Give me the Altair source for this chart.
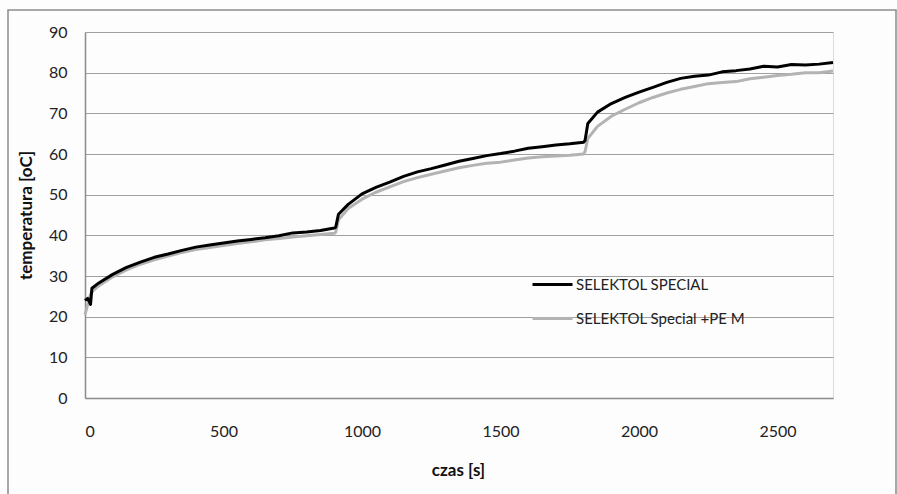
import altair as alt
import pandas as pd

# Measurement times [s] and temperatures [oC] for both lubricants
czas_special = [0, 10, 20, 25, 50, 100, 150, 200, 250, 300, 350, 400, 450, 500, 550, 600,
                650, 700, 750, 800, 850, 900, 905, 915, 950, 1000, 1050, 1100, 1150, 1200,
                1250, 1300, 1350, 1400, 1450, 1500, 1550, 1600, 1650, 1700, 1750, 1800, 1805,
                1815, 1850, 1900, 1950, 2000, 2050, 2100, 2150, 2200, 2250, 2300, 2350, 2400,
                2450, 2500, 2550, 2600, 2650, 2700]
temp_special = [24.0, 24.5, 23.0, 27.0, 28.3, 30.4, 32.1, 33.4, 34.6, 35.4, 36.3, 37.1, 37.6,
                38.1, 38.6, 39.0, 39.4, 39.9, 40.6, 40.8, 41.2, 41.8, 42.0, 45.2, 47.6, 50.2,
                51.8, 53.1, 54.5, 55.6, 56.4, 57.3, 58.2, 58.9, 59.6, 60.1, 60.7, 61.4, 61.8,
                62.2, 62.5, 62.9, 63.3, 67.5, 70.3, 72.4, 73.9, 75.2, 76.4, 77.6, 78.6, 79.1,
                79.4, 80.2, 80.5, 80.9, 81.6, 81.4, 82.0, 81.9, 82.1, 82.5]

czas_pem = [0, 10, 20, 30, 50, 100, 150, 200, 250, 300, 350, 400, 450, 500, 550, 600,
            650, 700, 750, 800, 850, 900, 905, 915, 950, 1000, 1050, 1100, 1150, 1200,
            1250, 1300, 1350, 1400, 1450, 1500, 1550, 1600, 1650, 1700, 1750, 1800, 1805,
            1815, 1850, 1900, 1950, 2000, 2050, 2100, 2150, 2200, 2250, 2300, 2350, 2400,
            2450, 2500, 2550, 2600, 2650, 2700]
temp_pem = [20.5, 23.0, 25.5, 26.5, 27.6, 29.8, 31.5, 32.9, 34.0, 34.9, 35.8, 36.5, 37.0,
            37.5, 38.0, 38.4, 38.9, 39.2, 39.6, 39.9, 40.2, 40.5, 40.8, 43.8, 46.6, 48.9,
            50.6, 51.9, 53.2, 54.2, 55.0, 55.8, 56.6, 57.2, 57.7, 58.0, 58.5, 59.0, 59.3,
            59.5, 59.7, 60.0, 60.6, 63.8, 66.8, 69.3, 71.0, 72.6, 73.9, 75.0, 75.9, 76.6,
            77.3, 77.6, 77.8, 78.5, 78.9, 79.3, 79.6, 80.0, 80.0, 80.4]

series_names = ["SELEKTOL SPECIAL", "SELEKTOL Special +PE M"]
series_colors = ["#000000", "#b3b3b3"]
x_ticks = [0, 500, 1000, 1500, 2000, 2500]
y_ticks = [0, 10, 20, 30, 40, 50, 60, 70, 80, 90]

df = pd.concat([
    pd.DataFrame({"czas": czas_pem, "temp": temp_pem, "seria": series_names[1], "kolejnosc": 0}),
    pd.DataFrame({"czas": czas_special, "temp": temp_special, "seria": series_names[0], "kolejnosc": 1}),
])

FONT = "Lato"

lines = alt.Chart(df).mark_line(strokeWidth=3, strokeJoin="round").encode(
    x=alt.X("czas:Q", scale=alt.Scale(domain=[0, 2700], nice=False),
            axis=alt.Axis(title="czas [s]", values=x_ticks, format="d", grid=False, ticks=False,
                          domainColor="#8c8c8c", domainWidth=1.5, labelPadding=25,
                          labelFontSize=16, labelColor="#222222",
                          titleFontSize=17, titleFontWeight="bold", titleColor="#111111",
                          titleX=373, titleY=72, titleBaseline="middle")),
    y=alt.Y("temp:Q", scale=alt.Scale(domain=[0, 90], nice=False),
            axis=alt.Axis(title="temperatura [oC]", values=y_ticks, grid=True,
                          gridColor="#a0a0a0", gridWidth=1, ticks=False,
                          domainColor="#8c8c8c", domainWidth=1.5, labelPadding=18,
                          labelFontSize=16, labelColor="#222222",
                          titleFontSize=17, titleFontWeight="bold", titleColor="#111111",
                          titleX=-59, titleY=183, titleBaseline="middle", titleAlign="center")),
    color=alt.Color("seria:N",
                    scale=alt.Scale(domain=series_names, range=series_colors),
                    legend=alt.Legend(title=None, orient="none", legendX=446, legendY=231,
                                      direction="vertical", symbolType="stroke",
                                      symbolSize=1600, symbolStrokeWidth=3,
                                      labelFontSize=15, labelColor="#222222",
                                      labelLimit=400, labelOffset=2, rowPadding=4)),
    detail="seria:N",
    order=alt.Order("kolejnosc:Q"),
)

# Outer frame around the whole chart area
frame = alt.Chart(pd.DataFrame({"k": [0]})).mark_rect(
    fill=None, stroke="#8c8c8c", strokeWidth=1.5, clip=False
).encode(x=alt.value(-77), x2=alt.value(811), y=alt.value(-22), y2=alt.value(470))

chart = alt.layer(frame, lines).properties(
    width=748, height=366,
    padding={"left": 85, "top": 32, "right": 64, "bottom": 96},
    autosize=alt.AutoSizeParams(type="none"),
    background="#fdfdfd",
).configure_view(stroke=None).configure(font=FONT)

chart.save("out.html", embed_options={"renderer": "svg", "actions": False})
